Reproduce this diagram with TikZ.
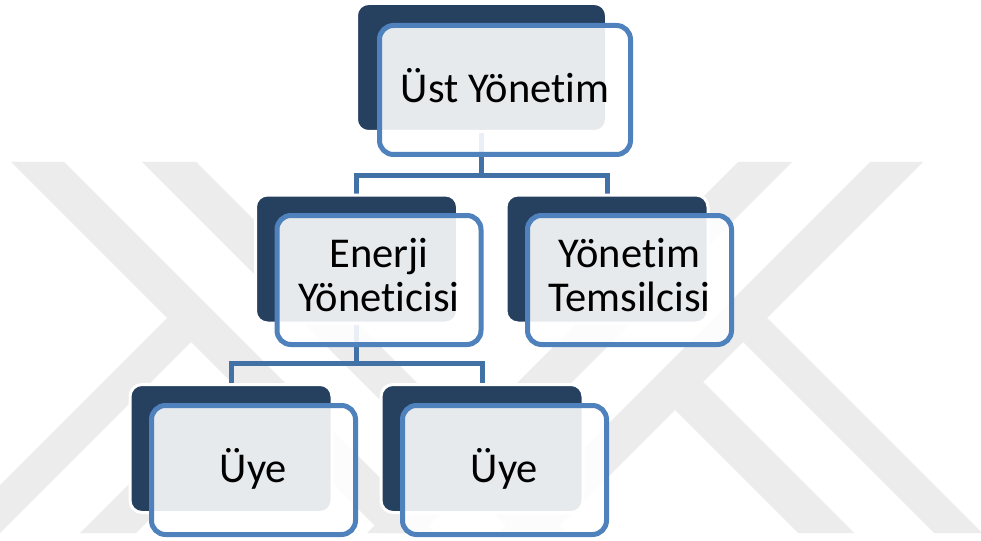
\documentclass[tikz,border=0pt]{standalone}
\usepackage{fontspec}
\setmainfont{Carlito}[Ligatures=NoCommon]
\definecolor{dkblue}{RGB}{38,64,96}
\definecolor{accent}{RGB}{79,129,189}
\definecolor{connc}{RGB}{66,113,166}
\definecolor{wmgray}{RGB}{236,236,236}
\pgfdeclarelayer{wm}
\pgfdeclarelayer{bg}
\pgfsetlayers{wm,bg,main}
\newcommand\sstrut{\rule[-0.22em]{0pt}{1em}}
\newcommand\mstrut{\rule[-0.28em]{0pt}{1em}}
\tikzset{
  darkbox/.style={rectangle, rounded corners=12pt, fill=dkblue, draw=white,
    line width=3pt, inner sep=0pt, minimum height=128pt},
  frontbox/.style={rectangle, rounded corners=14pt, fill=white, fill opacity=0.89,
    text opacity=1, draw=accent, line width=5pt, inner sep=0pt,
    minimum height=129pt, align=center, text=black,
    font=\fontsize{42.5}{42}\selectfont},
  conn/.style={draw=connc, line width=5pt},
  wmark/.style={fill=wmgray}
}
\begin{document}
\begin{tikzpicture}[x=1pt,y=-1pt]
\useasboundingbox (0,0) rectangle (981,540);
% watermark
\begin{pgfonlayer}{wm}
\begin{scope}
\clip (0,0) rectangle (981,540);
\fill[white] (0,0) rectangle (981,540);
% right half
\fill[wmark] (738,162) -- (792,162) -- (421,533) -- (367,533) -- cycle;
\fill[wmark] (870,162) -- (923,162) -- (552,533) -- (499,533) -- cycle;
\fill[wmark] (703,382) -- (854,533) -- (798,533) -- (675,410) -- cycle;
\fill[wmark] (767,318) -- (982,533) -- (934,533) -- (743,342) -- cycle;
% left half
\fill[wmark] (196,162) -- (142,162) -- (513,533) -- (567,533) -- cycle;
\fill[wmark] (64,162) -- (11,162) -- (382,533) -- (435,533) -- cycle;
\fill[wmark] (231,382) -- (80,533) -- (136,533) -- (259,410) -- cycle;
\fill[wmark] (167,318) -- (-48,533) -- (0,533) -- (191,342) -- cycle;
\end{scope}
\end{pgfonlayer}
% dark back boxes
\node[darkbox, minimum width=250pt] (topd) at (481.5,67.5) {};
\node[darkbox, minimum width=202pt] (ened) at (356.5,259) {};
\node[darkbox, minimum width=202pt] (temd) at (607,259) {};
\node[darkbox, minimum width=202pt] (u1d) at (231,448.5) {};
\node[darkbox, minimum width=202pt] (u2d) at (482,448.5) {};
% front boxes
\node[frontbox, minimum width=251pt] (topf) at (505,90) {\sstrut Üst Yönetim};
\node[frontbox, minimum width=204pt] (enf) at (379,280) {\mstrut Enerji\\\mstrut Yöneticisi};
\node[frontbox, minimum width=204pt] (temf) at (629.5,280) {\mstrut Yönetim\\\mstrut Temsilcisi};
\node[frontbox, minimum width=204pt] (u1f) at (253.5,470) {\sstrut Üye};
\node[frontbox, minimum width=204pt] (u2f) at (504.5,470) {\sstrut Üye};
% connectors
\coordinate (j1) at (0,175);
\coordinate (j2) at (0,363);
\begin{pgfonlayer}{bg}
\draw[conn] (topd.south) -- (topd.south |- j1);
\draw[conn] (ened.north) -- (ened.north |- j1) -- (temd.north |- j1) -- (temd.north);
\draw[conn] (ened.south) -- (ened.south |- j2);
\draw[conn] (u1d.north) -- (u1d.north |- j2) -- (u2d.north |- j2) -- (u2d.north);
\end{pgfonlayer}
\end{tikzpicture}
\end{document}
